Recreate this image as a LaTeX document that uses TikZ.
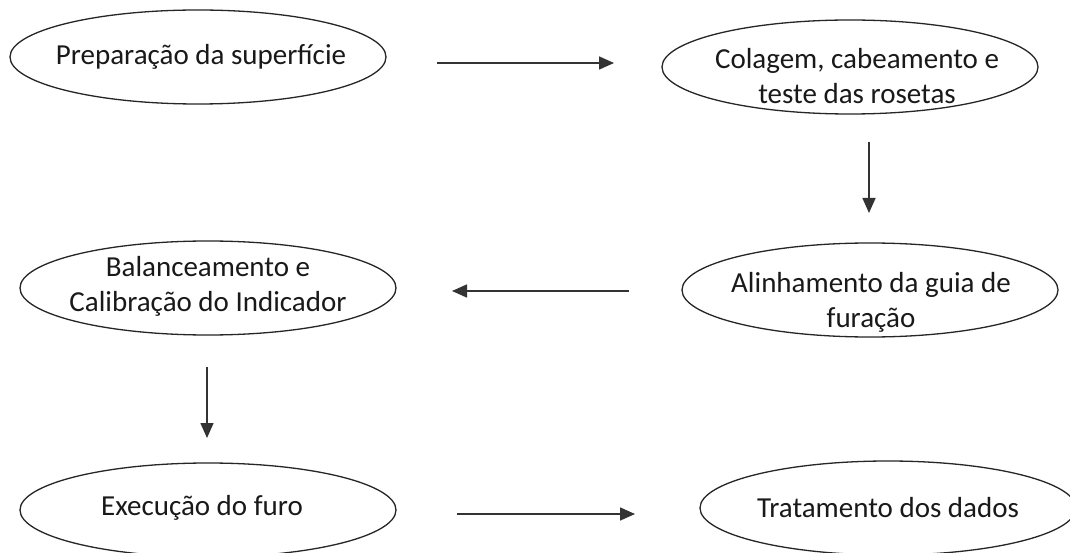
\documentclass[tikz,border=0pt]{standalone}
\usepackage{fontspec}
\setmainfont{Carlito}
\usetikzlibrary{shapes.geometric,arrows.meta}
\tikzset{
  stage/.style={draw=black!85, line width=1.3pt, ellipse, minimum width=376pt, minimum height=94pt, inner sep=0pt},
  lbl/.style={align=center, font=\fontsize{29}{35}\selectfont, text=black!90, inner sep=0pt},
  flow/.style={draw=black!80, line width=1.6pt, -{Triangle[length=15pt,width=13pt]}}
}
\begin{document}
\begin{tikzpicture}[x=1pt,y=-1pt]
\useasboundingbox (0,0) rectangle (1070,553);
\clip (0,0) rectangle (1070,553);
\fill[white] (0,0) rectangle (1070,553);
% ellipses
\node[stage] (e1) at (198,57) {};
\node[stage] (e2) at (850,67) {};
\node[stage] (e3) at (870,290) {};
\node[stage] (e4) at (208,288) {};
\node[stage] (e5) at (208,510) {};
\node[stage] (e6) at (888,508) {};
% labels
\node[lbl] (t1) at (201,57) {Preparação da superfície};
\node[lbl] (t2) at (857,76) {Colagem, cabeamento e\\teste das rosetas};
\node[lbl] (t3) at (871,302) {Alinhamento da guia de\\furação};
\node[lbl] (t4) at (208,286) {Balanceamento e\\Calibração do Indicador};
\node[lbl] (t5) at (202,508) {Execução do furo};
\node[lbl] (t6) at (888,508) {Tratamento dos dados};
% arrow ends
\coordinate (a1s) at (437,63);
\coordinate (a1e) at (614,63);
\coordinate (a2s) at (869,142);
\coordinate (a2e) at (869,213);
\coordinate (a3s) at (629,291);
\coordinate (a3e) at (452,291);
\coordinate (a4s) at (207,367);
\coordinate (a4e) at (207,438);
\coordinate (a5s) at (457,514);
\coordinate (a5e) at (635,514);
\draw[flow] (a1s) -- (a1e);
\draw[flow] (a2s) -- (a2e);
\draw[flow] (a3s) -- (a3e);
\draw[flow] (a4s) -- (a4e);
\draw[flow] (a5s) -- (a5e);
\end{tikzpicture}
\end{document}
